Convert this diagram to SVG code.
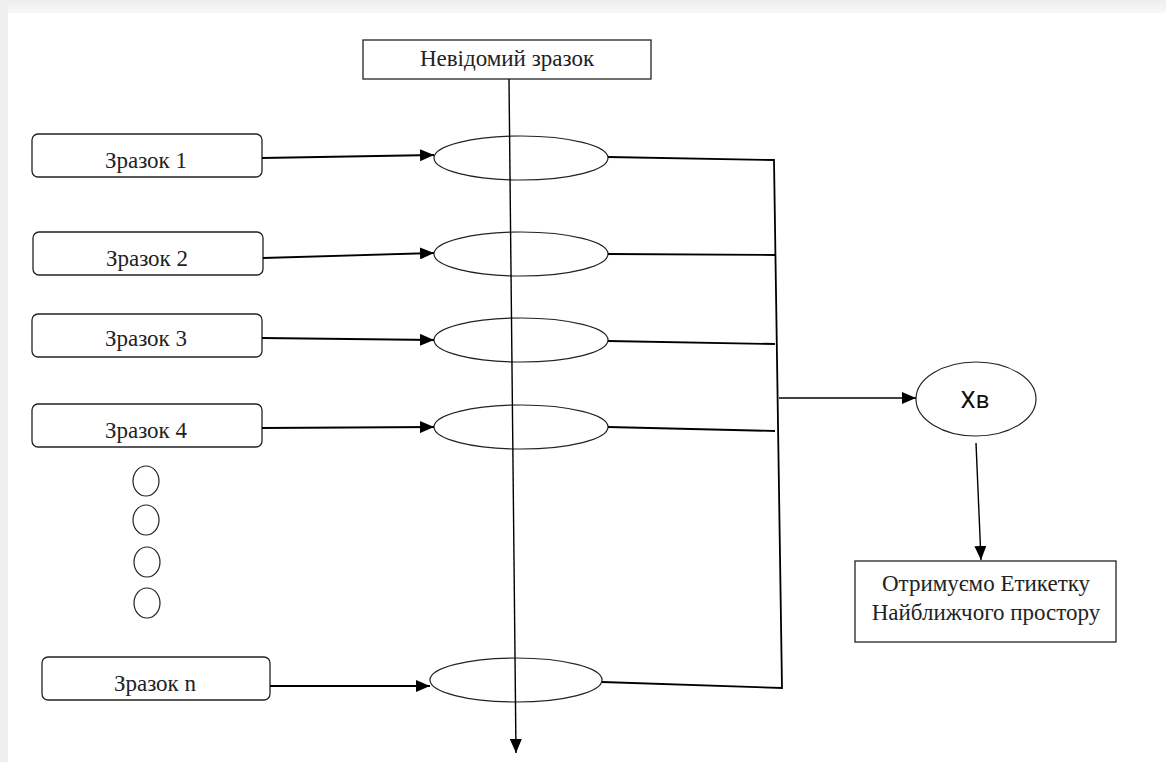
<svg xmlns="http://www.w3.org/2000/svg" width="1166" height="762" viewBox="0 0 1166 762">
  <defs>
    <marker id="arr" viewBox="0 0 14 12" refX="14" refY="6" markerWidth="14" markerHeight="12" markerUnits="userSpaceOnUse" orient="auto">
      <path d="M0,0 L14,6 L0,12 Z" fill="#000"/>
    </marker>
    <linearGradient id="topfade" x1="0" y1="0" x2="0" y2="1">
      <stop offset="0" stop-color="#eeeeee"/>
      <stop offset="1" stop-color="#f8f8f8"/>
    </linearGradient>
  </defs>
  <style>
    .box { fill: #fff; stroke: #222; stroke-width: 1.3; }
    .ell { fill: #fff; stroke: #222; stroke-width: 1.2; }
    .ring { fill: none; stroke: #222; stroke-width: 1.2; }
    .line { fill: none; stroke: #000; stroke-width: 1.8; }
    .thin { fill: none; stroke: #000; stroke-width: 1.4; }
    .serif { font-family: "Liberation Serif", "Times New Roman", serif; fill: #222; text-anchor: middle; }
    .sans { font-family: "Roboto", "Liberation Sans", sans-serif; fill: #111; text-anchor: middle; }
  </style>
  <rect x="0" y="0" width="1166" height="762" fill="#fff"/>
  <rect x="0" y="0" width="1166" height="13" fill="url(#topfade)"/>
  <rect x="0" y="0" width="8" height="762" fill="#efefef"/>

  <g id="unknown">
    <rect class="box" x="363" y="40" width="288" height="39"/>
    <text class="serif" x="507" y="66" font-size="23">Невідомий зразок</text>
  </g>

  <g id="sample1">
    <rect class="box" x="32" y="134" width="230" height="43" rx="6"/>
    <text class="serif" x="146" y="168" font-size="23">Зразок 1</text>
  </g>
  <g id="sample2">
    <rect class="box" x="33" y="232" width="230" height="43" rx="6"/>
    <text class="serif" x="147" y="266" font-size="23">Зразок 2</text>
  </g>
  <g id="sample3">
    <rect class="box" x="32" y="314" width="230" height="43" rx="6"/>
    <text class="serif" x="146" y="346" font-size="23">Зразок 3</text>
  </g>
  <g id="sample4">
    <rect class="box" x="32" y="404" width="230" height="43" rx="6"/>
    <text class="serif" x="146" y="438" font-size="23">Зразок 4</text>
  </g>
  <g id="dots">
    <ellipse class="ell" cx="146" cy="481" rx="13" ry="15"/>
    <ellipse class="ell" cx="146" cy="520" rx="13" ry="15"/>
    <ellipse class="ell" cx="147" cy="562" rx="13" ry="15"/>
    <ellipse class="ell" cx="147" cy="603" rx="13" ry="15"/>
  </g>
  <g id="samplen">
    <rect class="box" x="42" y="657" width="228" height="43" rx="6"/>
    <text class="serif" x="155" y="691" font-size="23">Зразок n</text>
  </g>

  <g id="e1"><ellipse class="ring" cx="521" cy="158" rx="87" ry="22"/></g>
  <g id="e2"><ellipse class="ring" cx="521" cy="254" rx="87" ry="22"/></g>
  <g id="e3"><ellipse class="ring" cx="521" cy="340" rx="87" ry="22"/></g>
  <g id="e4"><ellipse class="ring" cx="521" cy="427" rx="87" ry="22"/></g>
  <g id="en"><ellipse class="ring" cx="516" cy="680" rx="86" ry="22"/></g>

  <g id="xb">
    <ellipse class="ell" cx="976" cy="399" rx="60" ry="37"/>
    <text class="sans" x="975" y="408" font-size="24">Xв</text>
  </g>

  <g id="result">
    <rect class="box" x="855" y="561" width="261" height="81"/>
    <text class="serif" x="986" y="591" font-size="23">Отримуємо Етикетку</text>
    <text class="serif" x="986" y="620" font-size="23">Найближчого простору</text>
  </g>

  <g id="connectors">
    <line class="thin" x1="509" y1="79" x2="516" y2="753" marker-end="url(#arr)"/>
    <line class="line" x1="262" y1="158" x2="434" y2="155" marker-end="url(#arr)"/>
    <line class="line" x1="263" y1="258" x2="434" y2="253" marker-end="url(#arr)"/>
    <line class="line" x1="262" y1="338" x2="434" y2="340" marker-end="url(#arr)"/>
    <line class="line" x1="262" y1="428" x2="434" y2="427" marker-end="url(#arr)"/>
    <line class="line" x1="270" y1="686" x2="430" y2="686" marker-end="url(#arr)"/>
    <polyline class="line" points="608,157 774,160 782,688 602,682"/>
    <line class="line" x1="608" y1="254" x2="775" y2="255"/>
    <line class="line" x1="608" y1="341" x2="775" y2="344"/>
    <line class="line" x1="608" y1="427" x2="775" y2="431"/>
    <line class="thin" x1="779" y1="398" x2="916" y2="398" marker-end="url(#arr)"/>
    <line class="thin" x1="976" y1="443" x2="981" y2="560" marker-end="url(#arr)"/>
  </g>
</svg>
